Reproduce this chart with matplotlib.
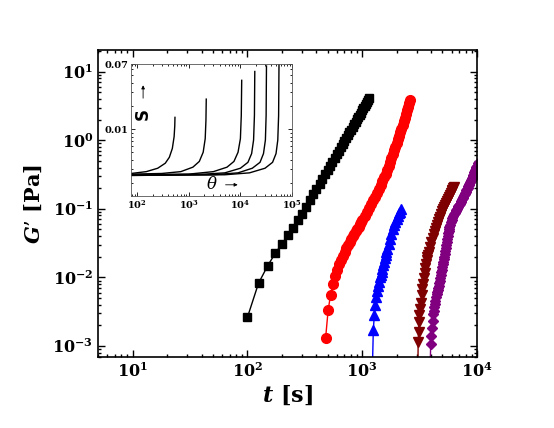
import math
import matplotlib
matplotlib.use("Agg")
import matplotlib.pyplot as plt
from matplotlib.ticker import FixedLocator, FuncFormatter, LogLocator, NullFormatter

plt.rcParams['font.family'] = 'DejaVu Serif'
plt.rcParams['font.weight'] = 'bold'
plt.rcParams['mathtext.fontset'] = 'dejavuserif'

# G' (Pa) contre t (s)
t_black = [100, 125, 150, 175, 200, 225, 250, 275, 300, 325, 350, 375, 400, 425, 450,
           475, 500, 525, 550, 575, 600, 625, 650, 675, 700, 725, 750, 775, 800, 825,
           850, 875, 900, 925, 950, 975, 1000, 1025, 1050, 1075, 1100, 1125, 1150]
g_black = [0.0026, 0.0082, 0.0147, 0.0225, 0.031, 0.041, 0.053, 0.068, 0.085, 0.107,
           0.133, 0.162, 0.195, 0.232, 0.273, 0.319, 0.370, 0.426, 0.487, 0.554, 0.626,
           0.704, 0.788, 0.878, 0.975, 1.08, 1.19, 1.31, 1.43, 1.57, 1.71, 1.85, 2.01,
           2.18, 2.35, 2.53, 2.72, 2.93, 3.14, 3.35, 3.59, 3.83, 4.07]

t_red = [480, 505, 530, 555, 580, 605, 630, 655, 680, 705, 730, 755, 780, 805, 830,
         855, 880, 905, 930, 955, 980, 1005, 1050, 1100, 1150, 1200, 1250, 1300, 1350,
         1400, 1450, 1500, 1550, 1600, 1650, 1700, 1750, 1800, 1850, 1900, 1950, 2000,
         2050, 2100, 2150, 2200, 2250, 2300, 2350, 2400, 2450, 2500, 2550, 2590]
g_red = [0.00129, 0.00331, 0.00550, 0.00794, 0.0105, 0.0129, 0.0155, 0.0178, 0.0204,
         0.0237, 0.0271, 0.0301, 0.0331, 0.0364, 0.0400, 0.0435, 0.0471, 0.0509, 0.0550,
         0.0592, 0.0635, 0.0676, 0.0783, 0.0902, 0.103, 0.118, 0.134, 0.151, 0.170,
         0.194, 0.222, 0.253, 0.287, 0.325, 0.370, 0.424, 0.485, 0.553, 0.628, 0.711,
         0.807, 0.916, 1.04, 1.17, 1.32, 1.48, 1.66, 1.88, 2.14, 2.43, 2.74, 3.10, 3.48,
         3.80]

t_blue = [1225, 1250, 1275, 1300, 1325, 1350, 1375, 1400, 1425, 1450, 1475, 1500, 1525,
          1550, 1575, 1600, 1625, 1650, 1700, 1750, 1800, 1850, 1900, 1950, 2000, 2050,
          2100, 2150, 2200]
g_blue = [0.0004, 0.0017, 0.0028, 0.0040, 0.0051, 0.0063, 0.0076, 0.0087, 0.0100,
          0.0110, 0.0120, 0.0132, 0.0150, 0.0169, 0.0189, 0.0212, 0.0238, 0.0260, 0.0310,
          0.0368, 0.0435, 0.0511, 0.0574, 0.0638, 0.0708, 0.0783, 0.0865, 0.0912, 0.0977]

t_maroon = [3050, 3075, 3100, 3125, 3150, 3200, 3250, 3300, 3350, 3400, 3450, 3500, 3550,
            3600, 3650, 3700, 3750, 3800, 3900, 4000, 4100, 4200, 4300, 4400, 4500, 4600,
            4700, 4800, 4900, 5000, 5100, 5200, 5300, 5400, 5500, 5600, 5700, 5800, 5900,
            6000, 6100, 6200, 6275]
g_maroon = [0.0004, 0.00116, 0.00162, 0.00222, 0.00284, 0.00347, 0.00427, 0.0055, 0.0068,
            0.0079, 0.0098, 0.0117, 0.0138, 0.0158, 0.0180, 0.0195, 0.0214, 0.0234, 0.0275,
            0.0324, 0.0380, 0.0429, 0.0477, 0.0528, 0.0585, 0.0641, 0.0703, 0.0769, 0.0839,
            0.0914, 0.099, 0.106, 0.114, 0.123, 0.132, 0.141, 0.150, 0.160, 0.169, 0.179,
            0.190, 0.200, 0.209]

t_purple = [3900, 3950, 4000, 4050, 4100, 4150, 4200, 4250, 4300, 4350, 4400, 4450, 4500,
            4550, 4600, 4650, 4700, 4750, 4800, 4850, 4900, 4950, 5000, 5050, 5100, 5150,
            5200, 5250, 5300, 5350, 5400, 5450, 5500, 5550, 5600, 5650, 5700, 5750, 5800,
            5900, 6000, 6100, 6200, 6300, 6400, 6500, 6600, 6700, 6800, 6900, 7000, 7100,
            7200, 7300, 7400, 7500, 7600, 7700, 7800, 7900, 8000, 8100, 8200, 8300, 8400,
            8500, 8600, 8700, 8800, 8900, 9000, 9100, 9200, 9300, 9400, 9500, 9600, 9700,
            9800, 9900, 10000, 10200]
g_purple = [0.0004, 0.00105, 0.00141, 0.00182, 0.00234, 0.00288, 0.00324, 0.00366, 0.00409,
            0.00459, 0.00514, 0.00568, 0.00611, 0.00658, 0.00706, 0.00759, 0.00815, 0.00877,
            0.0097, 0.0107, 0.0118, 0.0130, 0.0143, 0.0157, 0.0170, 0.0185, 0.0200, 0.0217,
            0.0242, 0.0269, 0.0298, 0.0331, 0.0366, 0.0406, 0.044, 0.0472, 0.0509, 0.0548,
            0.0586, 0.0634, 0.0686, 0.0740, 0.0794, 0.0836, 0.0877, 0.0923, 0.0968, 0.101,
            0.105, 0.110, 0.114, 0.119, 0.125, 0.132, 0.138, 0.145, 0.151, 0.158, 0.164,
            0.171, 0.178, 0.185, 0.194, 0.203, 0.213, 0.223, 0.233, 0.244, 0.254, 0.264,
            0.275, 0.286, 0.297, 0.310, 0.324, 0.340, 0.356, 0.373, 0.391, 0.408, 0.426,
            0.467]

# encart : S contre theta
theta_1 = [76, 150, 250, 350, 420, 480, 520, 535, 540]
s_1 = [0.00265, 0.0028, 0.0031, 0.0036, 0.0043, 0.0056, 0.0080, 0.011, 0.0142]
theta_2 = [76, 300, 700, 1200, 1600, 1900, 2080, 2150, 2180]
s_2 = [0.0026, 0.00265, 0.0028, 0.0032, 0.0038, 0.0050, 0.0075, 0.013, 0.0245]
theta_3 = [76, 1000, 3000, 5500, 7500, 9000, 10000, 10400, 10600]
s_3 = [0.00255, 0.0026, 0.0028, 0.0032, 0.0038, 0.0050, 0.0075, 0.015, 0.043]
theta_4 = [76, 2000, 5000, 10000, 14000, 16500, 18000, 18700, 19000]
s_4 = [0.00252, 0.0026, 0.0027, 0.0031, 0.0037, 0.0048, 0.0072, 0.015, 0.056]
theta_5 = [76, 3000, 9000, 17000, 24000, 28000, 30500, 31500, 32000]
s_5 = [0.0025, 0.00255, 0.0027, 0.0031, 0.0037, 0.0048, 0.0072, 0.015, 0.066]
theta_6 = [76, 5000, 15000, 30000, 42000, 49000, 53000, 55000, 56000]
s_6 = [0.0025, 0.00255, 0.0027, 0.0031, 0.0037, 0.0048, 0.0072, 0.015, 0.075]


def pow10(v, pos):
    return r'$\mathbf{10^{%d}}$' % round(math.log10(v))


fig = plt.figure(figsize=(5.54, 4.28), dpi=100)
ax = fig.add_axes([0.1769, 0.1659, 0.6841, 0.7173])
ax.set_xscale('log')
ax.set_yscale('log')

series = [(t_black, g_black, 'black', 's', 5.5),
          (t_red, g_red, 'red', 'o', 7.0),
          (t_blue, g_blue, 'blue', '^', 7.0),
          (t_maroon, g_maroon, '#7f0000', 'v', 7.0),
          (t_purple, g_purple, '#800080', 'D', 5.5)]
for t, g, c, m, ms in series:
    ax.plot(t, g, color=c, marker=m, ms=ms, mec=c, lw=1.0)

ax.set_xlim(5, 1e4)
ax.set_ylim(6.9e-4, 20.7)
ax.xaxis.set_major_formatter(FuncFormatter(pow10))
ax.yaxis.set_major_formatter(FuncFormatter(pow10))
ax.yaxis.set_major_locator(LogLocator(base=10, numticks=10))
ax.yaxis.set_minor_locator(LogLocator(base=10, subs=range(2, 10), numticks=20))
ax.yaxis.set_minor_formatter(NullFormatter())
ax.xaxis.set_minor_formatter(NullFormatter())
ax.tick_params(which='both', direction='in', top=True, right=True, width=1.0)
ax.tick_params(which='major', length=5, labelsize=11.5)
ax.tick_params(which='minor', length=2.5)
for sp in ax.spines.values():
    sp.set_linewidth(1.2)

ax.set_ylabel(r"$\mathbfit{G}$’ [Pa]", fontsize=15, fontweight='bold', labelpad=6)
ax.set_xlabel(r"$\mathbfit{t}$ [s]", fontsize=16, fontweight='bold', labelpad=2)

# encart
ins = fig.add_axes([0.2365, 0.542, 0.2906, 0.3084])
ins.set_xscale('log')
ins.set_yscale('log')
for th, s in [(theta_1, s_1), (theta_2, s_2), (theta_3, s_3),
              (theta_4, s_4), (theta_5, s_5), (theta_6, s_6)]:
    ins.plot(th, s, color='black', lw=1.0)
ins.set_xlim(76, 1e5)
ins.set_ylim(0.00135, 0.07)
ins.xaxis.set_major_formatter(FuncFormatter(pow10))
ins.xaxis.set_minor_formatter(NullFormatter())
ins.yaxis.set_major_locator(FixedLocator([0.01, 0.07]))
ins.yaxis.set_major_formatter(FuncFormatter(lambda v, p: '%.2f' % v))
ins.yaxis.set_minor_formatter(NullFormatter())
ins.tick_params(which='both', direction='in', top=True, right=True, width=0.6)
ins.tick_params(which='major', length=3, labelsize=7, pad=2)
ins.tick_params(which='minor', length=1.5)
for sp in ins.spines.values():
    sp.set_linewidth(0.6)
    sp.set_color('#555555')

ins.text(0.075, 0.62, 'S', rotation=90, family='DejaVu Sans', fontweight='bold',
         fontsize=12, ha='center', va='center', transform=ins.transAxes)
ins.annotate('', xy=(0.075, 0.86), xytext=(0.075, 0.72), xycoords='axes fraction',
             arrowprops=dict(arrowstyle='-|>', lw=0.6, color='black', mutation_scale=5))
ins.text(0.50, 0.085, 'θ', fontsize=12, fontstyle='italic', fontweight='normal',
         ha='center', va='center', transform=ins.transAxes)
ins.annotate('', xy=(0.68, 0.085), xytext=(0.57, 0.085), xycoords='axes fraction',
             arrowprops=dict(arrowstyle='-|>', lw=0.6, color='black', mutation_scale=5))

fig.savefig('out.png', dpi=100)
